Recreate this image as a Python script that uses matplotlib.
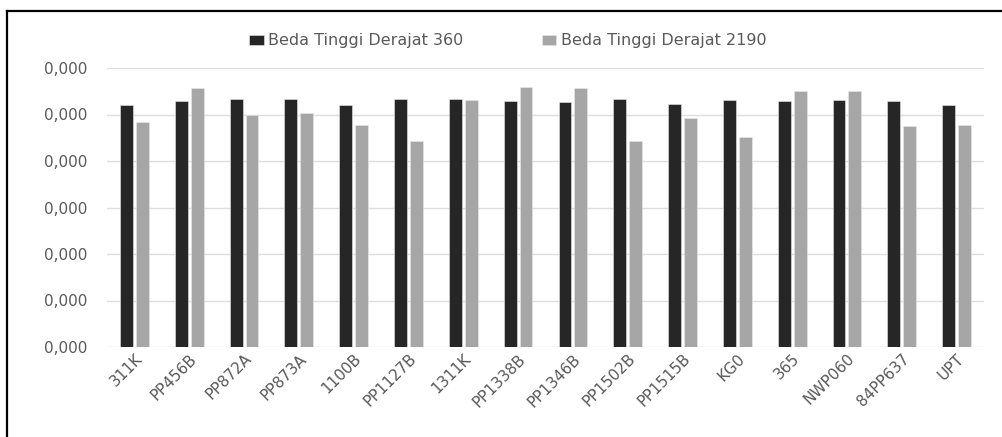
import matplotlib.pyplot as plt
import numpy as np
from matplotlib.lines import Line2D
from matplotlib.ticker import FuncFormatter

# data (height differences)
stations = ['311K', 'PP456B', 'PP872A', 'PP873A', '1100B', 'PP1127B', '1311K',
            'PP1338B', 'PP1346B', 'PP1502B', 'PP1515B', 'KG0', '365', 'NWP060',
            '84PP637', 'UPT']
beda_360 = [0.000260, 0.000265, 0.000267, 0.000267, 0.000260, 0.000267, 0.000267,
            0.000264, 0.000263, 0.000267, 0.000261, 0.000266, 0.000265, 0.000266,
            0.000264, 0.000260]
beda_2190 = [0.000242, 0.000279, 0.000250, 0.000252, 0.000239, 0.000222, 0.000266,
             0.000280, 0.000278, 0.000221, 0.000246, 0.000226, 0.000275, 0.000275,
             0.000238, 0.000239]
yticks = [0, 0.00005, 0.0001, 0.00015, 0.0002, 0.00025, 0.0003]

dark = '#262626'
grey = '#a6a6a6'
txt = '#595959'

fig = plt.figure(figsize=(10.03, 4.37), dpi=100)
ax = fig.add_axes([107/1003, 1 - 347/437, (984 - 107)/1003, (347 - 68)/437])

x = np.arange(len(stations))
w = 0.235
ax.bar(x - 0.145, beda_360, w, color=dark, edgecolor='#e8e8e8', linewidth=0.4,
       label='Beda Tinggi Derajat 360', zorder=3)
ax.bar(x + 0.145, beda_2190, w, color=grey, edgecolor='#e8e8e8', linewidth=0.4,
       label='Beda Tinggi Derajat 2190', zorder=3)

ax.set_xlim(-0.5, len(stations) - 0.5)
ax.set_ylim(0, 0.0003)
ax.set_yticks(yticks)
ax.yaxis.set_major_formatter(FuncFormatter(lambda v, p: f'{v:.3f}'.replace('.', ',')))
ax.grid(axis='y', color='#dedede', linewidth=1, zorder=0)
for s in ax.spines.values():
    s.set_visible(False)
ax.tick_params(axis='both', length=0, colors=txt)
ax.tick_params(axis='y', pad=14, labelsize=11)
ax.tick_params(axis='x', pad=3, labelsize=11)
ax.set_xticks(x)
ax.set_xticklabels(stations, rotation=45, ha='right', rotation_mode='anchor')

fig.legend(loc='center', bbox_to_anchor=(508/1003, 1 - 41/437), ncol=2,
           frameon=False, fontsize=11.5, labelcolor=txt, handlelength=0.9,
           handleheight=0.6, handletextpad=0.3, columnspacing=4.9)

# frame lines of the cropped screenshot
fig.add_artist(Line2D([7/1003, 1], [1 - 10.5/437, 1 - 10.5/437], color='black',
                      linewidth=1.6, transform=fig.transFigure))
fig.add_artist(Line2D([7/1003, 7/1003], [0, 1 - 10.5/437], color='black',
                      linewidth=1.6, transform=fig.transFigure))

fig.savefig('out.png', dpi=100)
